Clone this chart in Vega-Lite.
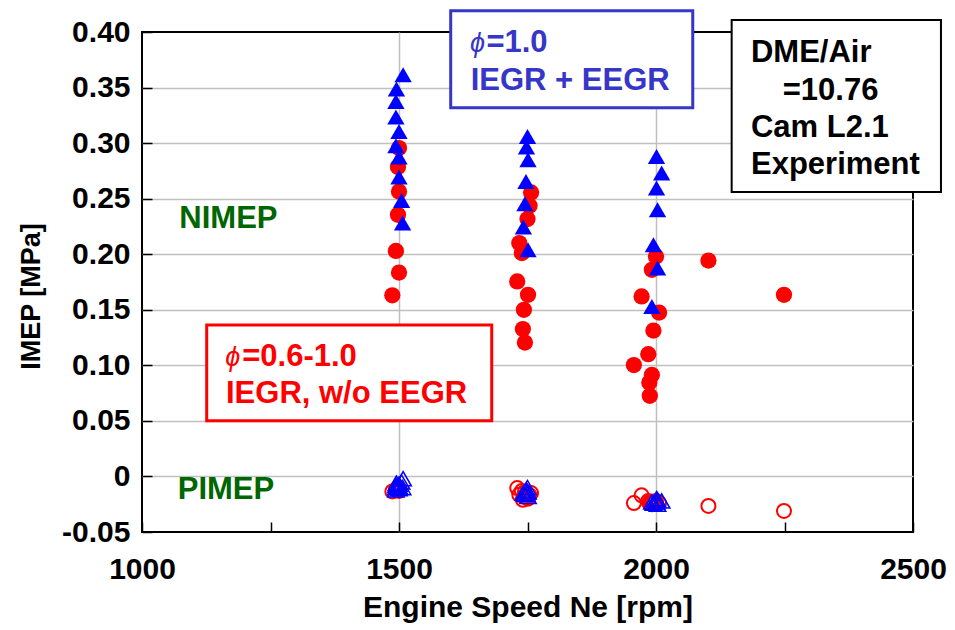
{
  "$schema": "https://vega.github.io/schema/vega-lite/v6.json",
  "width": 771,
  "height": 500,
  "autosize": {"type": "none"},
  "padding": {"left": 142, "top": 32, "right": 42, "bottom": 98},
  "background": "white",
  "config": {
    "view": {"stroke": "black", "strokeWidth": 2},
    "font": "Liberation Sans",
    "text": {"font": "Liberation Sans"}
  },
  "datasets": {
    "pts": [
      {"ne": 1487, "imep": 0.163, "g": "NI_IEGR"},
      {"ne": 1494, "imep": 0.203, "g": "NI_IEGR"},
      {"ne": 1500, "imep": 0.1835, "g": "NI_IEGR"},
      {"ne": 1498, "imep": 0.2355, "g": "NI_IEGR"},
      {"ne": 1500, "imep": 0.2564, "g": "NI_IEGR"},
      {"ne": 1498, "imep": 0.2784, "g": "NI_IEGR"},
      {"ne": 1500, "imep": 0.2955, "g": "NI_IEGR"},
      {"ne": 1757, "imep": 0.2556, "g": "NI_IEGR"},
      {"ne": 1754, "imep": 0.2436, "g": "NI_IEGR"},
      {"ne": 1750, "imep": 0.2316, "g": "NI_IEGR"},
      {"ne": 1734, "imep": 0.21, "g": "NI_IEGR"},
      {"ne": 1739, "imep": 0.201, "g": "NI_IEGR"},
      {"ne": 1730, "imep": 0.1755, "g": "NI_IEGR"},
      {"ne": 1751, "imep": 0.1635, "g": "NI_IEGR"},
      {"ne": 1743, "imep": 0.15, "g": "NI_IEGR"},
      {"ne": 1741, "imep": 0.1326, "g": "NI_IEGR"},
      {"ne": 1745, "imep": 0.1205, "g": "NI_IEGR"},
      {"ne": 2000, "imep": 0.198, "g": "NI_IEGR"},
      {"ne": 1992, "imep": 0.186, "g": "NI_IEGR"},
      {"ne": 1972, "imep": 0.162, "g": "NI_IEGR"},
      {"ne": 2006, "imep": 0.1475, "g": "NI_IEGR"},
      {"ne": 1995, "imep": 0.1313, "g": "NI_IEGR"},
      {"ne": 1985, "imep": 0.11, "g": "NI_IEGR"},
      {"ne": 1957, "imep": 0.1002, "g": "NI_IEGR"},
      {"ne": 1992, "imep": 0.0914, "g": "NI_IEGR"},
      {"ne": 1987, "imep": 0.0845, "g": "NI_IEGR"},
      {"ne": 1988, "imep": 0.0726, "g": "NI_IEGR"},
      {"ne": 2102, "imep": 0.1943, "g": "NI_IEGR"},
      {"ne": 2249, "imep": 0.1635, "g": "NI_IEGR"},

      {"ne": 1508, "imep": 0.3615, "g": "NI_EEGR"},
      {"ne": 1495, "imep": 0.3486, "g": "NI_EEGR"},
      {"ne": 1494, "imep": 0.3374, "g": "NI_EEGR"},
      {"ne": 1494, "imep": 0.3234, "g": "NI_EEGR"},
      {"ne": 1500, "imep": 0.3104, "g": "NI_EEGR"},
      {"ne": 1494, "imep": 0.2976, "g": "NI_EEGR"},
      {"ne": 1500, "imep": 0.2874, "g": "NI_EEGR"},
      {"ne": 1500, "imep": 0.2694, "g": "NI_EEGR"},
      {"ne": 1505, "imep": 0.2483, "g": "NI_EEGR"},
      {"ne": 1507, "imep": 0.228, "g": "NI_EEGR"},
      {"ne": 1750, "imep": 0.306, "g": "NI_EEGR"},
      {"ne": 1748, "imep": 0.2964, "g": "NI_EEGR"},
      {"ne": 1751, "imep": 0.285, "g": "NI_EEGR"},
      {"ne": 1747, "imep": 0.2655, "g": "NI_EEGR"},
      {"ne": 1745, "imep": 0.2454, "g": "NI_EEGR"},
      {"ne": 1742, "imep": 0.2244, "g": "NI_EEGR"},
      {"ne": 1751, "imep": 0.204, "g": "NI_EEGR"},
      {"ne": 2001, "imep": 0.288, "g": "NI_EEGR"},
      {"ne": 2011, "imep": 0.273, "g": "NI_EEGR"},
      {"ne": 2001, "imep": 0.2595, "g": "NI_EEGR"},
      {"ne": 2003, "imep": 0.24, "g": "NI_EEGR"},
      {"ne": 1995, "imep": 0.2085, "g": "NI_EEGR"},
      {"ne": 2003, "imep": 0.1875, "g": "NI_EEGR"},
      {"ne": 1992, "imep": 0.153, "g": "NI_EEGR"},

      {"ne": 1487, "imep": -0.0135, "g": "PI_IEGR"},
      {"ne": 1494, "imep": -0.012, "g": "PI_IEGR"},
      {"ne": 1500, "imep": -0.011, "g": "PI_IEGR"},
      {"ne": 1498, "imep": -0.01, "g": "PI_IEGR"},
      {"ne": 1500, "imep": -0.012, "g": "PI_IEGR"},
      {"ne": 1498, "imep": -0.011, "g": "PI_IEGR"},
      {"ne": 1500, "imep": -0.013, "g": "PI_IEGR"},
      {"ne": 1757, "imep": -0.015, "g": "PI_IEGR"},
      {"ne": 1754, "imep": -0.017, "g": "PI_IEGR"},
      {"ne": 1750, "imep": -0.019, "g": "PI_IEGR"},
      {"ne": 1730, "imep": -0.0105, "g": "PI_IEGR"},
      {"ne": 1739, "imep": -0.013, "g": "PI_IEGR"},
      {"ne": 1734, "imep": -0.0165, "g": "PI_IEGR"},
      {"ne": 1751, "imep": -0.02, "g": "PI_IEGR"},
      {"ne": 1743, "imep": -0.018, "g": "PI_IEGR"},
      {"ne": 1741, "imep": -0.021, "g": "PI_IEGR"},
      {"ne": 1745, "imep": -0.014, "g": "PI_IEGR"},
      {"ne": 2000, "imep": -0.022, "g": "PI_IEGR"},
      {"ne": 1992, "imep": -0.023, "g": "PI_IEGR"},
      {"ne": 1972, "imep": -0.017, "g": "PI_IEGR"},
      {"ne": 2006, "imep": -0.024, "g": "PI_IEGR"},
      {"ne": 1995, "imep": -0.023, "g": "PI_IEGR"},
      {"ne": 1985, "imep": -0.022, "g": "PI_IEGR"},
      {"ne": 1957, "imep": -0.024, "g": "PI_IEGR"},
      {"ne": 1992, "imep": -0.025, "g": "PI_IEGR"},
      {"ne": 1987, "imep": -0.024, "g": "PI_IEGR"},
      {"ne": 1988, "imep": -0.023, "g": "PI_IEGR"},
      {"ne": 2102, "imep": -0.0265, "g": "PI_IEGR"},
      {"ne": 2249, "imep": -0.031, "g": "PI_IEGR"},

      {"ne": 1508, "imep": -0.002, "g": "PI_EEGR"},
      {"ne": 1495, "imep": -0.006, "g": "PI_EEGR"},
      {"ne": 1494, "imep": -0.008, "g": "PI_EEGR"},
      {"ne": 1494, "imep": -0.01, "g": "PI_EEGR"},
      {"ne": 1500, "imep": -0.009, "g": "PI_EEGR"},
      {"ne": 1494, "imep": -0.012, "g": "PI_EEGR"},
      {"ne": 1500, "imep": -0.011, "g": "PI_EEGR"},
      {"ne": 1500, "imep": -0.007, "g": "PI_EEGR"},
      {"ne": 1505, "imep": -0.005, "g": "PI_EEGR"},
      {"ne": 1507, "imep": -0.01, "g": "PI_EEGR"},
      {"ne": 1750, "imep": -0.01, "g": "PI_EEGR"},
      {"ne": 1748, "imep": -0.012, "g": "PI_EEGR"},
      {"ne": 1751, "imep": -0.014, "g": "PI_EEGR"},
      {"ne": 1747, "imep": -0.013, "g": "PI_EEGR"},
      {"ne": 1745, "imep": -0.016, "g": "PI_EEGR"},
      {"ne": 1742, "imep": -0.015, "g": "PI_EEGR"},
      {"ne": 1751, "imep": -0.018, "g": "PI_EEGR"},
      {"ne": 2001, "imep": -0.02, "g": "PI_EEGR"},
      {"ne": 2011, "imep": -0.022, "g": "PI_EEGR"},
      {"ne": 2001, "imep": -0.023, "g": "PI_EEGR"},
      {"ne": 2003, "imep": -0.021, "g": "PI_EEGR"},
      {"ne": 1995, "imep": -0.024, "g": "PI_EEGR"},
      {"ne": 2003, "imep": -0.025, "g": "PI_EEGR"},
      {"ne": 1992, "imep": -0.023, "g": "PI_EEGR"}
    ],
    "boxes": [
      {"x": 1600.6, "x2": 2071.5, "y": 0.4192, "y2": 0.3319, "k": "eegr"},
      {"x": 1125.9, "x2": 1680.4, "y": 0.1363, "y2": 0.0502, "k": "iegr"},
      {"x": 2147.2, "x2": 2554.4, "y": 0.4108, "y2": 0.256, "k": "cond"}
    ],
    "labels": [
      {"x": 1670, "y": 0.3823, "t": "=1.0", "k": "eegr"},
      {"x": 1639.5, "y": 0.3478, "t": "IEGR + EEGR", "k": "eegr"},
      {"x": 1195, "y": 0.0994, "t": "=0.6-1.0", "k": "iegr"},
      {"x": 1163.4, "y": 0.0664, "t": "IEGR, w/o EEGR", "k": "iegr"},
      {"x": 2184.8, "y": 0.3733, "t": "DME/Air", "k": "cond"},
      {"x": 2246.5, "y": 0.3388, "t": "=10.76", "k": "cond"},
      {"x": 2184.8, "y": 0.3052, "t": "Cam L2.1", "k": "cond"},
      {"x": 2184.8, "y": 0.2722, "t": "Experiment", "k": "cond"},
      {"x": 1072.6, "y": 0.2233, "t": "NIMEP", "k": "kind"},
      {"x": 1069.5, "y": -0.0206, "t": "PIMEP", "k": "kind"}
    ],
    "phis": [
      {"x": 1638, "y": 0.3823, "t": "ϕ", "k": "eegr"},
      {"x": 1162, "y": 0.0994, "t": "ϕ", "k": "iegr"}
    ]
  },
  "layer": [
    {
      "data": {"name": "pts"},
      "transform": [{"filter": "datum.g == 'NI_IEGR'"}],
      "mark": {"type": "point", "shape": "circle", "filled": true, "color": "#ff0000", "opacity": 1, "size": 265},
      "encoding": {
        "x": {
          "field": "ne", "type": "quantitative",
          "scale": {"domain": [1000, 2500], "nice": false, "zero": false},
          "axis": {
            "title": "Engine Speed Ne [rpm]",
            "values": [1000, 1250, 1500, 1750, 2000, 2250, 2500],
            "labelExpr": "datum.value % 500 == 0 ? toString(datum.value) : ''",
            "domain": false,
            "tickSize": -10, "tickColor": "black", "tickWidth": 1.5,
            "grid": true, "gridColor": "#c0c0c0", "gridWidth": 1.5,
            "gridOpacity": {"condition": {"test": "datum.value == 1500 || datum.value == 2000", "value": 1}, "value": 0},
            "labelFont": "Liberation Sans", "labelFontSize": 30, "labelFontWeight": "bold", "labelColor": "black",
            "labelPadding": 32, "labelOverlap": false, "labelFlush": false, "labelBound": false,
            "titleFont": "Liberation Sans", "titleFontSize": 30, "titleFontWeight": "bold", "titleColor": "black",
            "titlePadding": 8
          }
        },
        "y": {
          "field": "imep", "type": "quantitative",
          "scale": {"domain": [-0.05, 0.4], "nice": false, "zero": false},
          "axis": {
            "title": "IMEP [MPa]",
            "values": [-0.05, -0.025, 0, 0.025, 0.05, 0.075, 0.1, 0.125, 0.15, 0.175, 0.2, 0.225, 0.25, 0.275, 0.3, 0.325, 0.35, 0.375, 0.4],
            "labelExpr": "round(datum.value*1000) % 50 == 0 ? (datum.value == 0 ? '0' : (datum.value < 0 ? '-' + format(-datum.value, '.2f') : format(datum.value, '.2f'))) : ''",
            "domain": false,
            "tickSize": -10, "tickColor": "black", "tickWidth": 1.5,
            "grid": true, "gridColor": "#c0c0c0", "gridWidth": 1.5,
            "gridOpacity": {"condition": {"test": "round(datum.value*1000) % 50 == 0 && datum.value > -0.04 && datum.value < 0.39", "value": 1}, "value": 0},
            "labelFont": "Liberation Sans", "labelFontSize": 30, "labelFontWeight": "bold", "labelColor": "black",
            "labelPadding": 22, "labelOverlap": false, "labelFlush": false, "labelBound": false,
            "titleFont": "Liberation Sans", "titleFontSize": 27, "titleFontWeight": "bold", "titleColor": "black",
            "titlePadding": 16, "titleY": 264
          }
        }
      }
    },
    {
      "data": {"name": "pts"},
      "transform": [{"filter": "datum.g == 'PI_IEGR'"}],
      "mark": {"type": "point", "shape": "circle", "filled": false, "color": "#ff0000", "strokeWidth": 2, "opacity": 1, "size": 196},
      "encoding": {
        "x": {"field": "ne", "type": "quantitative", "scale": {"domain": [1000, 2500], "nice": false, "zero": false}},
        "y": {"field": "imep", "type": "quantitative", "scale": {"domain": [-0.05, 0.4], "nice": false, "zero": false}}
      }
    },
    {
      "data": {"name": "pts"},
      "transform": [{"filter": "datum.g == 'NI_EEGR'"}],
      "mark": {"type": "point", "shape": "triangle-up", "filled": true, "color": "#0000ff", "opacity": 1, "size": 300},
      "encoding": {
        "x": {"field": "ne", "type": "quantitative", "scale": {"domain": [1000, 2500], "nice": false, "zero": false}},
        "y": {"field": "imep", "type": "quantitative", "scale": {"domain": [-0.05, 0.4], "nice": false, "zero": false}}
      }
    },
    {
      "data": {"name": "pts"},
      "transform": [{"filter": "datum.g == 'PI_EEGR'"}],
      "mark": {"type": "point", "shape": "triangle-up", "filled": false, "color": "#0000ff", "strokeWidth": 1.5, "opacity": 1, "size": 270},
      "encoding": {
        "x": {"field": "ne", "type": "quantitative", "scale": {"domain": [1000, 2500], "nice": false, "zero": false}},
        "y": {"field": "imep", "type": "quantitative", "scale": {"domain": [-0.05, 0.4], "nice": false, "zero": false}}
      }
    },
    {
      "data": {"name": "boxes"},
      "mark": {"type": "rect", "fill": "white", "strokeWidth": 3, "clip": false},
      "encoding": {
        "x": {"field": "x", "type": "quantitative", "scale": {"domain": [1000, 2500], "nice": false, "zero": false}},
        "x2": {"field": "x2"},
        "y": {"field": "y", "type": "quantitative", "scale": {"domain": [-0.05, 0.4], "nice": false, "zero": false}},
        "y2": {"field": "y2"},
        "stroke": {"field": "k", "type": "nominal", "scale": {"domain": ["eegr", "iegr", "cond", "kind"], "range": ["#3636c8", "#ff0000", "#000000", "#006600"]}, "legend": null},
        "strokeWidth": {"condition": {"test": "datum.k == 'cond'", "value": 2}, "value": 3}
      }
    },
    {
      "data": {"name": "labels"},
      "mark": {"type": "text", "align": "left", "baseline": "alphabetic", "font": "Liberation Sans", "fontSize": 31, "fontWeight": "bold", "clip": false},
      "encoding": {
        "x": {"field": "x", "type": "quantitative", "scale": {"domain": [1000, 2500], "nice": false, "zero": false}},
        "y": {"field": "y", "type": "quantitative", "scale": {"domain": [-0.05, 0.4], "nice": false, "zero": false}},
        "text": {"field": "t"},
        "color": {"field": "k", "type": "nominal", "scale": {"domain": ["eegr", "iegr", "cond", "kind"], "range": ["#3636c8", "#ff0000", "#000000", "#006600"]}, "legend": null}
      }
    },
    {
      "data": {"name": "phis"},
      "mark": {"type": "text", "align": "left", "baseline": "alphabetic", "font": "Liberation Sans", "fontSize": 27, "fontStyle": "italic", "fontWeight": "normal", "clip": false},
      "encoding": {
        "x": {"field": "x", "type": "quantitative", "scale": {"domain": [1000, 2500], "nice": false, "zero": false}},
        "y": {"field": "y", "type": "quantitative", "scale": {"domain": [-0.05, 0.4], "nice": false, "zero": false}},
        "text": {"field": "t"},
        "color": {"field": "k", "type": "nominal", "scale": {"domain": ["eegr", "iegr", "cond", "kind"], "range": ["#3636c8", "#ff0000", "#000000", "#006600"]}, "legend": null}
      }
    }
  ]
}
